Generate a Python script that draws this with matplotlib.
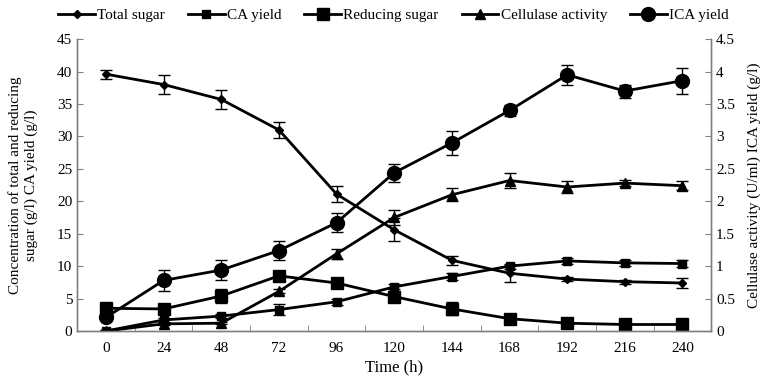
import matplotlib
matplotlib.use("Agg")
import matplotlib.pyplot as plt
from matplotlib.ticker import FixedLocator

plt.rcParams["font.family"] = ["Liberation Serif", "DejaVu Serif"]

# =========================
# DATA
# =========================
time_h = [0, 24, 48, 72, 96, 120, 144, 168, 192, 216, 240]

total_sugar = [39.6, 38.0, 35.7, 31.0, 21.1, 15.6, 10.9, 8.9, 8.0, 7.6, 7.4]
total_sugar_err = [0.7, 1.4, 1.4, 1.3, 1.2, 1.8, 0.7, 1.3, 0.3, 0.3, 0.7]

ca_yield = [0.0, 1.7, 2.3, 3.3, 4.5, 6.8, 8.4, 10.0, 10.8, 10.5, 10.4]
ca_yield_err = [0.1, 0.3, 0.3, 0.9, 0.5, 0.4, 0.5, 0.4, 0.4, 0.5, 0.6]

reducing_sugar = [3.5, 3.4, 5.4, 8.5, 7.4, 5.3, 3.4, 1.9, 1.2, 1.0, 1.0]
reducing_sugar_err = [0.3, 0.3, 1.1, 0.5, 0.3, 0.5, 1.0, 0.2, 0.1, 0.1, 0.1]

cellulase = [0.0, 0.11, 0.12, 0.61, 1.19, 1.75, 2.10, 2.32, 2.22, 2.28, 2.24]
cellulase_err = [0.01, 0.02, 0.02, 0.03, 0.08, 0.12, 0.10, 0.11, 0.10, 0.05, 0.07]

ica_yield = [0.21, 0.78, 0.94, 1.24, 1.67, 2.44, 2.90, 3.40, 3.95, 3.70, 3.86]
ica_yield_err = [0.03, 0.16, 0.16, 0.15, 0.15, 0.14, 0.19, 0.09, 0.15, 0.10, 0.20]

left_ticks = [0, 5, 10, 15, 20, 25, 30, 35, 40, 45]
right_ticks = [0, 0.5, 1, 1.5, 2, 2.5, 3, 3.5, 4, 4.5]
right_labels = ["0", "0.5", "1", "1.5", "2", "2.5", "3", "3.5", "4", "4.5"]

# =========================
# FIGURE
# =========================
fig, ax = plt.subplots(figsize=(7.64, 3.8), dpi=100)
fig.subplots_adjust(left=0.101, right=0.931, bottom=0.129, top=0.897)
ax2 = ax.twinx()

lw = 2.0
eb = dict(ecolor="black", elinewidth=1.0, capsize=4, capthick=1.0)

h1 = ax.errorbar(time_h, total_sugar, yerr=total_sugar_err, color="black", lw=lw,
                 marker="D", ms=4.5, label="Total sugar", **eb)
h2 = ax.errorbar(time_h, ca_yield, yerr=ca_yield_err, color="black", lw=lw,
                 marker="s", ms=5.5, label="CA yield", **eb)
h3 = ax.errorbar(time_h, reducing_sugar, yerr=reducing_sugar_err, color="black", lw=lw,
                 marker="s", ms=9, label="Reducing sugar", **eb)
h4 = ax2.errorbar(time_h, cellulase, yerr=cellulase_err, color="black", lw=lw,
                  marker="^", ms=7, label="Cellulase activity", **eb)
h5 = ax2.errorbar(time_h, ica_yield, yerr=ica_yield_err, color="black", lw=lw,
                  marker="o", ms=10, label="ICA yield", **eb)

# =========================
# AXES
# =========================
ax.set_xlim(-12, 252)
ax.set_ylim(0, 45)
ax2.set_ylim(0, 4.5)

ax.set_xticks(time_h)
ax.xaxis.set_minor_locator(FixedLocator([12 + 24 * k for k in range(10)]))
ax.tick_params(axis="x", which="major", length=0, labelsize=11, pad=8)
ax.tick_params(axis="x", which="minor", direction="in", length=4, color="#808080")
ax.set_yticks(left_ticks)
ax.tick_params(axis="y", direction="in", length=4, color="#808080", labelsize=11)

ax2.set_yticks(right_ticks)
ax2.set_yticklabels(right_labels)
ax2.tick_params(axis="y", direction="in", length=4, color="#808080", labelsize=11)

for a in (ax, ax2):
    a.spines["top"].set_visible(False)
    for s in ("left", "right", "bottom"):
        a.spines[s].set_color("#808080")
        a.spines[s].set_linewidth(1.0)

ax.set_xlabel("Time (h)", fontsize=12, labelpad=3)
ax.set_ylabel("Concentration of total and reducing\nsugar (g/l) CA yield (g/l)",
              fontsize=11, labelpad=14, linespacing=1.2)
ax2.set_ylabel("Cellulase activity (U/ml) ICA yield (g/l)", fontsize=11, labelpad=9)

# legend shows only line + marker, no error bars
handles = [h[0] for h in (h1, h2, h3, h4, h5)]
labels = ["Total sugar", "CA yield", "Reducing sugar", "Cellulase activity", "ICA yield"]
fig.legend(handles, labels, loc="center", bbox_to_anchor=(0.515, 0.96),
           ncol=5, frameon=False, fontsize=11, handlelength=2.4, handletextpad=0.15,
           columnspacing=1.5)

fig.savefig("out.png", dpi=100)
